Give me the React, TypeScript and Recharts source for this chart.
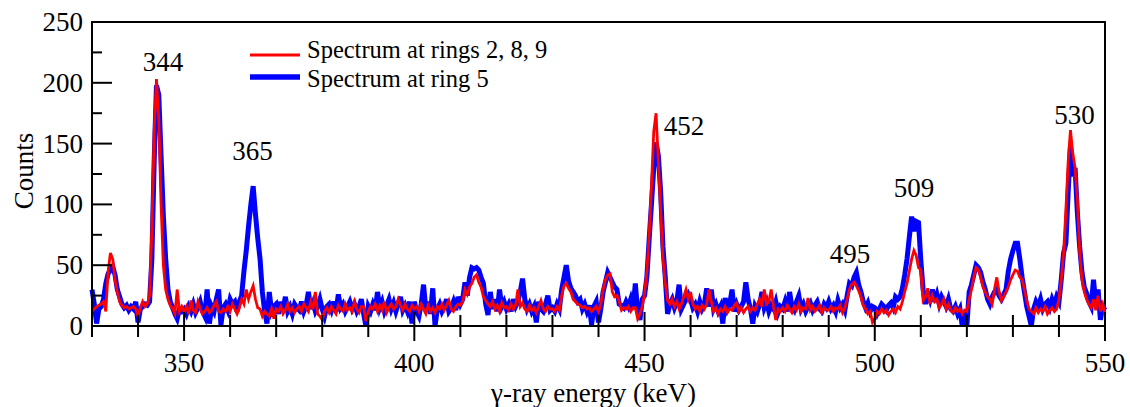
import React from "react";
import {
  LineChart,
  Line,
  XAxis,
  YAxis,
  ReferenceArea,
  ReferenceDot,
  Legend,
} from "recharts";

// channel calibration of the spectra (0.5 keV per channel, starting at 330 keV)
const CHANNEL_START_KEV = 330;
const CHANNEL_WIDTH_KEV = 0.5;

// counts per channel, ring 5
const ring5Counts = [
  30, 18, 2, 14, 16, 22, 35, 43, 46, 49, 42, 30, 24, 18, 15, 17, 13, 16, 14, 20, // 330
  3, 14, 16, 18, 17, 20, 55, 135, 198, 190, 140, 90, 55, 30, 20, 15, 10, 6, 14, 12, // 340
  14, 10, 16, 12, 18, 11, 15, 20, 12, 8, 30, 2, 16, 12, 22, 30, 1, 15, 18, 13, // 350
  22, 18, 20, 12, 20, 25, 45, 62, 82, 100, 115, 92, 72, 55, 28, 12, 2, 28, 12, 16, // 360
  18, 10, 20, 14, 24, 12, 16, 10, 18, 15, 13, 20, 12, 17, 28, 14, 19, 12, 16, 22, // 370
  14, 8, 16, 18, 13, 20, 12, 26, 15, 18, 12, 16, 20, 14, 18, 12, 16, 22, 10, 0, // 380
  16, 12, 18, 13, 28, 15, 20, 12, 17, 22, 14, 19, 12, 18, 24, 13, 17, 12, 20, 2, // 390
  20, 12, 8, 18, 34, 14, 20, 10, 31, 0, 14, 18, 12, 16, 22, 12, 15, 20, 13, 24, // 400
  18, 22, 36, 25, 40, 48, 47, 48, 46, 40, 35, 18, 9, 28, 14, 22, 12, 30, 16, 20, // 410
  14, 18, 12, 22, 16, 20, 28, 39, 22, 14, 18, 12, 16, 3, 20, 14, 12, 18, 25, 13, // 420
  15, 12, 18, 14, 30, 40, 50, 37, 31, 28, 25, 20, 22, 14, 18, 12, 17, 1, 16, 20, // 430
  3, 14, 28, 36, 44, 40, 36, 32, 30, 18, 17, 15, 20, 16, 22, 14, 35, 12, 5, 22, // 440
  25, 40, 71, 100, 130, 151, 140, 110, 65, 40, 10, 18, 22, 15, 20, 34, 14, 18, 22, 26, // 450
  22, 15, 18, 12, 20, 14, 18, 31, 16, 30, 14, 18, 12, 16, 2, 23, 14, 18, 30, 12, // 460
  18, 13, 16, 20, 36, 22, 14, 2, 16, 12, 18, 28, 15, 20, 12, 17, 14, 20, 11, 16, // 470
  14, 20, 12, 28, 16, 13, 20, 25, 14, 18, 12, 16, 19, 13, 17, 20, 14, 12, 18, 15, // 480
  20, 14, 17, 12, 21, 15, 18, 13, 25, 35, 33, 40, 44, 34, 28, 20, 15, 19, 12, 16, // 490
  15, 10, 14, 18, 16, 13, 17, 19, 15, 24, 22, 24, 31, 42, 55, 73, 90, 78, 86, 85, // 500
  54, 30, 18, 28, 22, 30, 20, 26, 18, 24, 20, 16, 22, 14, 12, 16, 10, 14, 0, 12, // 510
  0, 28, 34, 42, 50, 48, 44, 36, 30, 22, 18, 24, 28, 30, 25, 22, 26, 30, 45, 55, // 520
  62, 68, 68, 55, 40, 28, 16, 8, 0, 14, 20, 16, 22, 14, 18, 20, 15, 22, 17, 24, // 530
  20, 38, 60, 68, 110, 148, 123, 130, 93, 65, 44, 32, 27, 20, 16, 38, 18, 30, 5, 16, // 540
  13, // 550
];

// counts per channel, rings 2, 8 and 9
const rings289Counts = [
  12, 14, 16, 17, 18, 20, 12, 45, 60, 55, 38, 28, 20, 17, 15, 16, 14, 15, 16, 14, // 330
  8, 15, 20, 16, 18, 25, 80, 160, 203, 170, 100, 50, 30, 22, 17, 14, 10, 30, 12, 16, // 340
  12, 16, 10, 21, 13, 11, 20, 14, 10, 12, 15, 11, 13, 17, 20, 12, 11, 14, 12, 16, // 350
  12, 18, 14, 10, 15, 22, 18, 30, 22, 28, 33, 22, 15, 14, 8, 12, 10, 8, 14, 6, // 360
  14, 12, 16, 10, 13, 18, 12, 15, 11, 14, 16, 12, 18, 15, 12, 20, 14, 28, 10, 8, // 370
  5, 12, 15, 11, 16, 13, 10, 17, 14, 12, 18, 13, 15, 12, 20, 14, 11, 16, 16, 4, // 380
  12, 16, 14, 18, 12, 17, 13, 20, 11, 15, 18, 14, 16, 22, 17, 13, 18, 14, 12, 17, // 390
  14, 16, 12, 18, 14, 10, 17, 12, 15, 11, 16, 14, 18, 13, 17, 21, 14, 12, 16, 18, // 400
  17, 20, 30, 26, 32, 35, 40, 42, 36, 32, 24, 21, 18, 16, 20, 14, 17, 12, 19, 15, // 410
  16, 13, 18, 14, 17, 30, 16, 19, 14, 12, 17, 13, 15, 11, 16, 21, 14, 12, 16, 14, // 420
  14, 12, 16, 13, 25, 33, 35, 31, 28, 22, 20, 18, 17, 15, 16, 14, 15, 12, 14, 16, // 430
  12, 18, 30, 38, 42, 43, 28, 24, 25, 20, 13, 15, 14, 16, 12, 15, 15, 6, 10, 16, // 440
  27, 45, 75, 115, 160, 175, 134, 95, 55, 35, 21, 18, 22, 16, 20, 14, 18, 24, 30, 22, // 450
  28, 18, 14, 16, 12, 17, 14, 18, 30, 20, 12, 15, 10, 14, 12, 16, 11, 14, 13, 17, // 460
  19, 12, 15, 11, 14, 16, 12, 15, 13, 18, 22, 16, 30, 18, 20, 30, 16, 5, 14, 12, // 470
  15, 12, 17, 14, 11, 16, 13, 18, 12, 15, 14, 23, 13, 16, 12, 14, 17, 11, 15, 13, // 480
  13, 16, 12, 15, 14, 17, 11, 15, 22, 30, 34, 36, 33, 29, 24, 17, 14, 10, 12, 3, // 490
  6, 12, 10, 14, 11, 13, 9, 12, 14, 11, 16, 14, 20, 28, 35, 45, 55, 62, 58, 48, // 500
  46, 21, 24, 31, 18, 25, 20, 22, 15, 18, 22, 14, 18, 13, 11, 15, 12, 14, 10, 13, // 510
  12, 22, 30, 40, 48, 46, 40, 32, 28, 24, 22, 18, 30, 40, 28, 21, 24, 28, 32, 38, // 520
  42, 46, 45, 40, 38, 30, 21, 14, 12, 10, 15, 11, 14, 12, 16, 10, 13, 15, 12, 14, // 530
  22, 38, 60, 95, 135, 161, 142, 130, 104, 60, 38, 28, 22, 18, 15, 22, 13, 25, 12, 18, // 540
  10, // 550
];

const energyTicks = [
  330, 340, 350, 360, 370, 380, 390, 400, 410, 420, 430, 440, 450, 460, 470, 480,
  490, 500, 510, 520, 530, 540, 550,
];
const countTicks = [0, 25, 50, 75, 100, 125, 150, 175, 200, 225, 250];

// peak annotations: text, energy and count of the text baseline
const peakNames = ["344", "365", "452", "495", "509", "530"];
const peakNameEnergy = [345.4, 364.85, 458.55, 494.6, 508.5, 543.35];
const peakNameCounts = [209.7, 136.5, 157, 51.8, 106, 166];

const rows = ring5Counts.map((c, i) => ({
  energy: CHANNEL_START_KEV + i * CHANNEL_WIDTH_KEV,
  ring5: c,
  rings289: rings289Counts[i],
}));

const SERIF = { fontFamily: "Liberation Serif, DejaVu Serif, Times New Roman, serif" };

function EnergyTick(props: any) {
  const { x, y, payload } = props;
  const major = payload.value % 50 === 0;
  return (
    <g>
      <line
        x1={x}
        x2={x}
        y1={y - (major ? 14 : 11)}
        y2={y + (major ? 15 : 11)}
        stroke="#000"
        strokeWidth={2}
      />
      {major && (
        <text x={x} y={y + 46} textAnchor="middle" fontSize={27} style={SERIF} fill="#000">
          {payload.value}
        </text>
      )}
    </g>
  );
}

function CountTick(props: any) {
  const { x, y, payload } = props;
  const major = payload.value % 50 === 0;
  return (
    <g>
      <line x1={x} x2={x + (major ? 20 : 10)} y1={y} y2={y} stroke="#000" strokeWidth={2} />
      {major && (
        <text
          x={x - 9}
          y={y}
          textAnchor="end"
          dominantBaseline="central"
          fontSize={27}
          style={SERIF}
          fill="#000"
        >
          {payload.value}
        </text>
      )}
    </g>
  );
}

function SpectrumLegend() {
  return (
    <svg width={340} height={70}>
      <line x1={10} x2={60} y1={25} y2={25} stroke="#ff0000" strokeWidth={3} />
      <text x={67} y={27.5} fontSize={24.5} style={SERIF} fill="#000">
        Spectrum at rings 2, 8, 9
      </text>
      <line x1={10} x2={60} y1={47} y2={47} stroke="#0000ff" strokeWidth={5.5} />
      <text x={67} y={56.5} fontSize={24.5} style={SERIF} fill="#000">
        Spectrum at ring 5
      </text>
    </svg>
  );
}

export default function App() {
  return (
    <div style={{ position: "absolute", left: 0, top: 0, width: 1130, height: 407, background: "#fff" }}>
      <LineChart
        width={1130}
        height={407}
        data={rows}
        margin={{ top: 22, right: 25, bottom: 0, left: 0 }}
      >
        <XAxis
          dataKey="energy"
          type="number"
          domain={[330, 550]}
          ticks={energyTicks}
          interval={0}
          height={81}
          tickSize={0}
          tickMargin={0}
          tick={<EnergyTick />}
          tickLine={false}
          axisLine={{ stroke: "#000", strokeWidth: 2 }}
          label={{
            content: (p: any) => (
              <text
                x={p.viewBox.x + p.viewBox.width / 2 - 5}
                y={p.viewBox.y + 76}
                textAnchor="middle"
                fontSize={27}
                style={SERIF}
                fill="#000"
              >
                γ-ray energy (keV)
              </text>
            ),
          }}
        />
        <YAxis
          type="number"
          domain={[0, 250]}
          ticks={countTicks}
          interval={0}
          width={92}
          tickSize={0}
          tickMargin={0}
          tick={<CountTick />}
          tickLine={false}
          axisLine={{ stroke: "#000", strokeWidth: 2 }}
          label={{
            content: (p: any) => {
              const cy = p.viewBox.y + p.viewBox.height / 2 - 3;
              return (
                <text
                  x={33}
                  y={cy}
                  transform={`rotate(-90, 33, ${cy})`}
                  textAnchor="middle"
                  fontSize={27}
                  style={SERIF}
                  fill="#000"
                >
                  Counts
                </text>
              );
            },
          }}
        />
        <ReferenceArea x1={330} x2={550} y1={0} y2={250} fill="none" stroke="#000" strokeWidth={2} />
        <Line
          dataKey="ring5"
          type="linear"
          stroke="#0000ff"
          strokeWidth={5}
          dot={false}
          activeDot={false}
          isAnimationActive={false}
        />
        <Line
          dataKey="rings289"
          type="linear"
          stroke="#ff0000"
          strokeWidth={2.8}
          dot={false}
          activeDot={false}
          isAnimationActive={false}
        />
        {peakNames.map((name, i) => (
          <ReferenceDot
            key={name}
            x={peakNameEnergy[i]}
            y={peakNameCounts[i]}
            r={0}
            shape={(p: any) => (
              <text x={p.cx} y={p.cy} textAnchor="middle" fontSize={27} style={SERIF} fill="#000">
                {name}
              </text>
            )}
          />
        ))}
        <Legend
          layout="horizontal"
          verticalAlign="middle"
          align="center"
          content={<SpectrumLegend />}
          wrapperStyle={{ left: 240, top: 30, width: 340, height: 70 }}
        />
      </LineChart>
    </div>
  );
}
